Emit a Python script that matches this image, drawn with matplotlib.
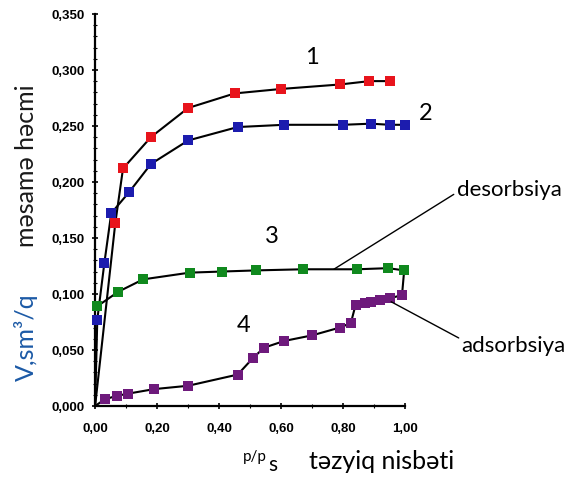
import matplotlib
matplotlib.use("Agg")
from matplotlib import pyplot as plt
from matplotlib.ticker import MultipleLocator, FuncFormatter

# curve 1 (red)
x1 = [0.065, 0.09, 0.18, 0.30, 0.45, 0.60, 0.79, 0.885, 0.95]
y1 = [0.163, 0.212, 0.240, 0.266, 0.279, 0.283, 0.287, 0.290, 0.290]
# curve 2 (blue)
x2 = [0.007, 0.03, 0.052, 0.11, 0.18, 0.30, 0.46, 0.61, 0.80, 0.89, 0.95, 1.00]
y2 = [0.077, 0.128, 0.172, 0.191, 0.216, 0.237, 0.249, 0.251, 0.251, 0.252, 0.251, 0.251]
# curve 3 (green, desorption)
x3 = [0.007, 0.075, 0.155, 0.305, 0.41, 0.52, 0.67, 0.845, 0.945, 0.997]
y3 = [0.089, 0.102, 0.113, 0.119, 0.120, 0.121, 0.122, 0.122, 0.123, 0.121]
# curve 4 (purple, adsorption)
x4 = [0.032, 0.07, 0.107, 0.19, 0.30, 0.46, 0.51, 0.545, 0.61, 0.70, 0.79, 0.825,
      0.84, 0.87, 0.89, 0.92, 0.95, 0.99]
y4 = [0.006, 0.009, 0.011, 0.015, 0.018, 0.028, 0.043, 0.052, 0.058, 0.063, 0.070, 0.074,
      0.090, 0.092, 0.093, 0.095, 0.096, 0.099]

fig = plt.figure(figsize=(5.73, 4.81), dpi=100)
ax = fig.add_axes([0.166, 0.154, 0.541, 0.815])

lw = 1.5
ax.plot([0] + x1, [0] + y1, color="black", lw=lw, zorder=2)
ax.plot([0] + x2, [0] + y2, color="black", lw=lw, zorder=2)
ax.plot([0] + x3, [0.086] + y3, color="black", lw=lw, zorder=2)
ax.plot([0] + x4, [0] + y4, color="black", lw=lw, zorder=2)
ax.plot([x3[-1], x4[-1]], [y3[-1], y4[-1]], color="black", lw=lw, zorder=2)

ms = 7.5
ax.plot(x1, y1, "s", color="#e8141c", ms=ms, mew=0, zorder=3, clip_on=False)
ax.plot(x2, y2, "s", color="#1c1cae", ms=ms - 0.8, mew=0, zorder=3, clip_on=False)
ax.plot(x3, y3, "s", color="#10891e", ms=ms, mew=0, zorder=3, clip_on=False)
ax.plot(x4, y4, "s", color="#6e1a7c", ms=ms - 0.8, mew=0, zorder=3, clip_on=False)

ax.set_xlim(0, 1.0)
ax.set_ylim(0, 0.35)
for s in ["top", "right"]:
    ax.spines[s].set_visible(False)
for s in ["left", "bottom"]:
    ax.spines[s].set_linewidth(1.6)

ax.xaxis.set_major_locator(MultipleLocator(0.2))
ax.xaxis.set_minor_locator(MultipleLocator(0.1))
ax.yaxis.set_major_locator(MultipleLocator(0.05))
ax.yaxis.set_minor_locator(MultipleLocator(0.01))
ax.xaxis.set_major_formatter(FuncFormatter(lambda v, p: f"{v:.2f}".replace(".", ",")))
ax.yaxis.set_major_formatter(FuncFormatter(lambda v, p: f"{v:.3f}".replace(".", ",")))
ax.tick_params(which="major", direction="inout", length=5, width=1.2,
               labelsize=9.5, pad=5)
ax.tick_params(axis="x", which="major", pad=9)
ax.tick_params(which="minor", direction="inout", length=3, width=0.8)
for lab in ax.get_xticklabels() + ax.get_yticklabels():
    lab.set_family("Liberation Sans")
    lab.set_fontweight("bold")

nf = dict(family="Lato", fontsize=17, color="black")
ax.text(0.70, 0.312, "1", ha="center", va="center", **nf)
ax.text(1.065, 0.262, "2", ha="center", va="center", clip_on=False, **nf)
ax.text(0.57, 0.152, "3", ha="center", va="center", **nf)
ax.text(0.48, 0.073, "4", ha="center", va="center", **nf)

tf = dict(family="Lato", fontsize=16, color="black")
ax.annotate("desorbsiya", xy=(0.77, 0.122), xytext=(1.335, 0.194),
            ha="center", va="center", annotation_clip=False,
            arrowprops=dict(arrowstyle="-", color="black", lw=1,
                            shrinkA=0, shrinkB=0, relpos=(0.0, 0.3)), **tf)
ax.annotate("adsorbsiya", xy=(0.955, 0.093), xytext=(1.35, 0.054),
            ha="center", va="center", annotation_clip=False,
            arrowprops=dict(arrowstyle="-", color="black", lw=1,
                            shrinkA=0, shrinkB=0, relpos=(0.0, 0.8)), **tf)

fig.text(0.424, 0.050, "p/p", family="Lato", fontsize=11, ha="left", va="center")
fig.text(0.468, 0.033, "s", family="Lato", fontsize=15, ha="left", va="center")
fig.text(0.54, 0.040, "təzyiq nisbəti", family="Lato", fontsize=18,
         ha="left", va="center")

fig.text(0.046, 0.30, "V,sm³/q", family="Lato", fontsize=18, color="#1c5aa6",
         rotation=90, ha="center", va="center")
fig.text(0.046, 0.655, "məsamə həcmi", family="Lato", fontsize=18, color="#1a1a1a",
         rotation=90, ha="center", va="center")

fig.savefig("out.png", dpi=100)
